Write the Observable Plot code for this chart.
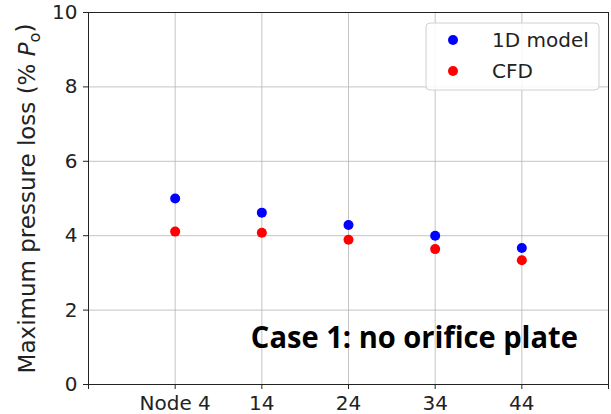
<!DOCTYPE html>
<html>
<head>
<meta charset="utf-8">
<script src="https://cdn.jsdelivr.net/npm/d3@7"></script>
<script src="https://cdn.jsdelivr.net/npm/@observablehq/plot@0.6"></script>
<style>
  html, body { margin: 0; padding: 0; background: #fff; }
  #chart { width: 611px; height: 414px; }
</style>
</head>
<body>
<div id="chart"></div>
<script>
// ---- data ----
const nodes = ["Node 4", "14", "24", "34", "44"];
const model1D = [5.0, 4.62, 4.29, 4.0, 3.67];
const cfd = [4.11, 4.08, 3.89, 3.64, 3.34];
const seriesNames = ["1D model", "CFD"];
const seriesColors = ["#0000ff", "#ff0000"];
const yTicks = [0, 2, 4, 6, 8, 10];
const yLabel = "Maximum pressure loss (% Po)";
const annotation = "Case 1: no orifice plate";

// build table
const positions = d3.range(0, nodes.length + 2);           // 0..6 (0 and 6 are unlabeled frame ticks)
const labelAt = i => (i >= 1 && i <= nodes.length) ? nodes[i - 1] : "";
const rows = [];
nodes.forEach((n, i) => {
  rows.push({x: i + 1, y: model1D[i], s: seriesNames[0]});
  rows.push({x: i + 1, y: cfd[i], s: seriesNames[1]});
});

const font = "DejaVu Sans, sans-serif";
const chart = Plot.plot({
  width: 611,
  height: 414,
  marginLeft: 88,
  marginRight: 3,
  marginTop: 12,
  marginBottom: 30,
  style: {fontFamily: font, fontSize: "20px", color: "#222", background: "#fff"},
  x: {domain: [0, nodes.length + 1]},
  y: {domain: [0, 10]},
  color: {domain: seriesNames, range: seriesColors},
  marks: [
    Plot.gridX(positions, {stroke: "#b0b0b0", strokeOpacity: 0.75, strokeWidth: 1}),
    Plot.gridY(yTicks, {stroke: "#b0b0b0", strokeOpacity: 0.75, strokeWidth: 1}),
    Plot.axisX(positions, {tickFormat: labelAt, tickSize: 5, tickPadding: 6, label: null, fontSize: 20, stroke: "#222"}),
    Plot.axisY(yTicks, {tickSize: 5, tickPadding: 6, label: null, fontSize: 20, stroke: "#222"}),
    Plot.dot(rows, {x: "x", y: "y", fill: "s", r: 5}),
    Plot.text([annotation], {x: [3.76], y: [1.26], textAnchor: "middle", fontSize: 31, fontWeight: "bold",
      fontFamily: "'Open Sans', Lato, sans-serif", fill: "#000", className: "annot"}),
    Plot.text([yLabel], {frameAnchor: "left", dx: -61, rotate: -90, textAnchor: "middle", fontSize: 23, fill: "#222", className: "ylab"}),
    Plot.frame({stroke: "#222", strokeWidth: 1})
  ]
});
document.getElementById("chart").appendChild(chart);

const svg = d3.select(chart);

// annotation: condensed to the reference's width
svg.select("g.annot text").attr("textLength", 327).attr("lengthAdjust", "spacingAndGlyphs");

// y label: italic P with subscript o
const yl = svg.select("g.ylab text");
if (!yl.empty()) {
  yl.text("");
  yl.append("tspan").text("Maximum pressure loss (% ");
  yl.append("tspan").attr("font-style", "italic").text("P");
  yl.append("tspan").attr("font-size", "16px").attr("dy", "0.3em").text("o");
  yl.append("tspan").attr("dy", "-0.3em").text(")");
}

// legend (inside the plot, upper right)
const lg = svg.append("g").attr("font-family", font).attr("font-size", 20).attr("text-anchor", "start");
lg.append("rect").attr("x", 426).attr("y", 23).attr("width", 173).attr("height", 67)
  .attr("rx", 4).attr("fill", "#fff").attr("fill-opacity", 0.85).attr("stroke", "#d0d0d0");
seriesNames.forEach((name, i) => {
  const cy = 40 + i * 31;
  lg.append("circle").attr("cx", 453).attr("cy", cy).attr("r", 5).attr("fill", seriesColors[i]);
  lg.append("text").attr("x", 492).attr("y", cy + 7).attr("fill", "#222").text(name);
});
</script>
</body>
</html>
